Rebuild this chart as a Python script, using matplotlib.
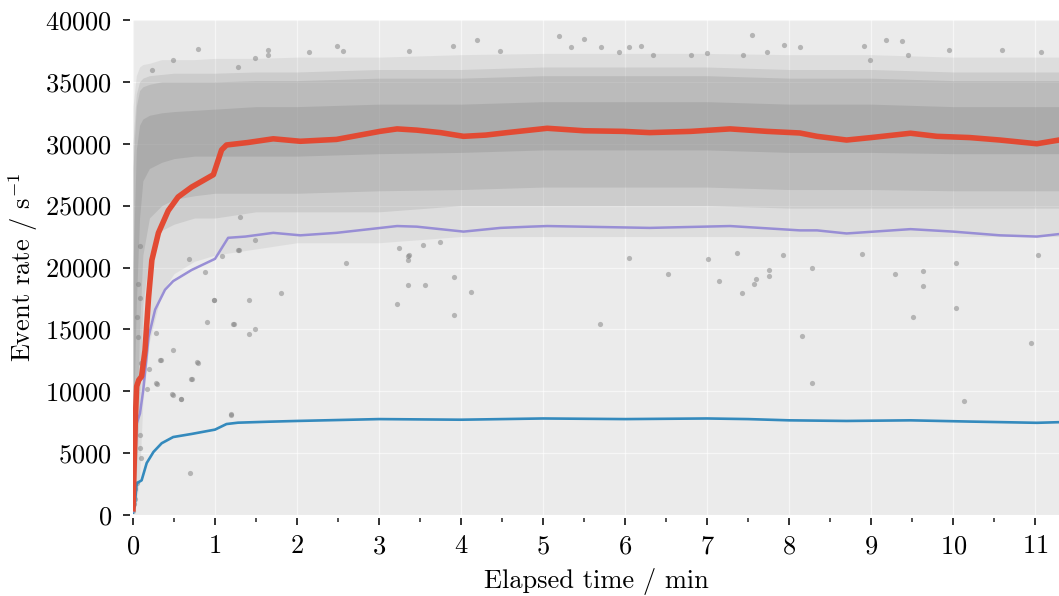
import numpy as np
import matplotlib
matplotlib.use("Agg")
from matplotlib import pyplot as plt
from matplotlib.ticker import MultipleLocator

# mean event rates, time in minutes
total_t = [0.0, 0.01, 0.03, 0.045, 0.07, 0.105, 0.146, 0.19, 0.23, 0.31, 0.43, 0.55, 0.715,
           0.98, 1.08, 1.14, 1.4, 1.71, 2.04, 2.48, 3.01, 3.22, 3.46, 3.75, 4.03, 4.3, 4.56,
           4.84, 5.05, 5.5, 5.98, 6.3, 6.8, 7.28, 7.73, 8.13, 8.34, 8.7, 9.0, 9.48, 9.8,
           10.2, 10.57, 11.02, 11.29]
total_rate = [500, 3000, 8000, 10400, 10900, 11200, 13300, 17600, 20600, 22800, 24600, 25700, 26500,
              27500, 29500, 29900, 30100, 30400, 30200, 30350, 31000, 31200, 31100, 30900, 30600, 30700, 30900,
              31100, 31250, 31050, 31000, 30900, 31000, 31200, 31000, 30870, 30600, 30300, 30500, 30850, 30600,
              30500, 30300, 30000, 30300]

part_a_t = [0.0, 0.02, 0.045, 0.085, 0.125, 0.19, 0.27, 0.39, 0.49, 0.715, 1.0, 1.16, 1.37,
            1.71, 2.04, 2.48, 3.22, 3.46, 4.03, 4.48, 4.84, 5.05, 6.3, 7.28, 8.13, 8.34,
            8.7, 9.48, 10.0, 10.57, 11.02, 11.29]
part_a_rate = [300, 3000, 7400, 8200, 10100, 14400, 16600, 18200, 18900, 19800, 20700, 22400, 22500,
               22800, 22600, 22800, 23350, 23300, 22900, 23200, 23300, 23350, 23200, 23350, 23000, 23000,
               22750, 23100, 22900, 22600, 22500, 22700]

part_b_t = [0.0, 0.02, 0.045, 0.105, 0.167, 0.25, 0.35, 0.49, 0.715, 1.0, 1.14, 1.28, 1.66,
            2.0, 3.0, 4.0, 5.0, 6.0, 7.0, 7.5, 8.0, 8.7, 9.48, 10.2, 11.02, 11.29]
part_b_rate = [200, 700, 2560, 2800, 4200, 5100, 5800, 6300, 6550, 6900, 7350, 7460, 7540,
               7600, 7750, 7700, 7800, 7750, 7800, 7750, 7650, 7600, 7650, 7550, 7450, 7500]

cloud_t = [0.0, 0.04, 0.08, 0.12, 0.2, 0.35, 0.5, 0.75, 1.0, 1.5, 2.0, 3.0, 4.0, 5.0, 6.0,
           7.0, 8.0, 9.0, 10.0, 11.0, 11.29]
cloud_p01 = [300, 800, 3000, 9000, 14000, 18000, 19500, 20500, 21000, 21500, 22000, 22000, 22500, 22500, 22500,
             22500, 22500, 22500, 22500, 22500, 22500]
cloud_p05 = [1000, 3000, 9000, 17000, 21000, 23000, 23500, 24000, 24000, 24500, 24500, 24500, 25000, 25000, 25000,
             25000, 24800, 24800, 24800, 24800, 24800]
cloud_p10 = [2000, 6000, 15000, 21000, 24000, 25000, 25500, 25800, 26000, 26000, 26000, 26200, 26300, 26500, 26500,
             26500, 26300, 26300, 26200, 26200, 26200]
cloud_p30 = [6000, 17000, 24000, 27000, 28000, 28500, 28800, 29000, 29000, 29000, 29000, 29200, 29300, 29500, 29500,
             29500, 29300, 29300, 29200, 29200, 29200]
cloud_p70 = [20000, 29500, 31500, 32000, 32300, 32500, 32600, 32700, 32800, 33000, 33000, 33200, 33200, 33400, 33400,
             33400, 33200, 33200, 33000, 33000, 33000]
cloud_p90 = [28000, 33000, 34300, 34600, 34800, 35000, 35000, 35000, 35000, 35100, 35100, 35300, 35300, 35500, 35500,
             35500, 35300, 35300, 35100, 35100, 35100]
cloud_p95 = [30000, 34000, 35000, 35300, 35500, 35600, 35700, 35700, 35700, 35800, 35800, 36000, 36000, 36200, 36200,
             36200, 36000, 36000, 35800, 35800, 35800]
cloud_p99 = [33000, 35500, 36200, 36400, 36500, 36800, 36800, 36800, 36900, 36900, 37000, 37000, 37200, 37300, 37300,
             37300, 37200, 37200, 37000, 37000, 37000]

# single points standing out of the cloud
outlier_t = [0.0, 0.01, 0.02, 0.03, 0.045, 0.065, 0.085, 0.085, 0.065, 0.045, 0.085, 0.085, 0.1, 0.1,
             0.165, 0.20, 0.28, 0.28, 0.29, 0.33, 0.34, 0.48, 0.49, 0.49, 0.58, 0.59, 0.68, 0.695,
             0.71, 0.715, 0.78, 0.79, 0.88, 0.906, 0.985, 0.99, 1.085, 1.19, 1.195, 1.22, 1.23, 1.29,
             1.41, 1.41, 1.49, 1.81, 2.60, 3.22, 3.35, 3.35, 3.35, 3.56, 3.91, 3.91, 4.12, 5.69,
             6.05, 6.52, 7.01, 7.14, 7.36, 7.43, 7.57, 7.59, 7.75, 7.75, 7.92, 8.16, 8.28, 8.28,
             8.89, 9.29, 9.51, 9.63, 9.63, 10.04, 10.04, 10.13, 10.95, 11.04,
             1.28, 1.49, 3.37, 3.54, 3.74, 3.24, 1.30,
             0.23, 0.49, 0.795, 1.28, 1.49, 1.64, 1.64, 2.14, 2.49, 2.56, 3.36, 3.9, 4.2, 4.48,
             5.19, 5.34, 5.5, 5.71, 5.92, 6.05, 6.19, 6.34, 6.8, 7.0, 7.44, 7.55, 7.73, 7.94,
             8.13, 8.91, 8.98, 9.18, 9.38, 9.45, 9.95, 10.6, 11.07]
outlier_rate = [300, 900, 1300, 2100, 2600, 14400, 21700, 17500, 18700, 16000, 6500, 5400, 4600, 12300,
                10200, 11800, 10700, 14700, 10600, 12500, 12500, 9800, 13300, 9700, 9400, 9350, 20700, 3400,
                11000, 11000, 12400, 12300, 19600, 15600, 17400, 17400, 20900, 8200, 8100, 15400, 15400, 21400,
                17400, 14600, 15000, 17900, 20400, 17060, 20900, 20600, 18600, 18600, 19260, 16200, 18000, 15400,
                20800, 19500, 20700, 18900, 21200, 17900, 18700, 19100, 19800, 19300, 21000, 14500, 20000, 10700,
                21100, 19500, 16000, 19700, 18500, 20400, 16700, 9200, 13900, 21000,
                21400, 22200, 21000, 21800, 22100, 21600, 24100,
                36000, 36800, 37660, 36200, 36900, 37600, 37200, 37400, 37900, 37500, 37500, 37900, 38400, 37500,
                38700, 37800, 38500, 37800, 37400, 37800, 37900, 37200, 37200, 37300, 37200, 38800, 37400, 38000,
                37800, 37900, 36800, 38400, 38300, 37200, 37600, 37600, 37400]

plt.rcParams.update({
    "font.family": "serif",
    "font.serif": ["cmr10"],
    "mathtext.fontset": "cm",
    "axes.unicode_minus": False,
    "axes.formatter.use_mathtext": True,
    "font.size": 19,
})

fig = plt.figure(figsize=(10.59, 5.96), dpi=100)
ax = fig.add_axes([133 / 1059, 81 / 596, 926 / 1059, 495 / 596])
ax.set_facecolor("#ebebeb")

cloud_col = "#7f7f7f"
bands = [(cloud_p01, cloud_p99, 0.12), (cloud_p05, cloud_p95, 0.18), (cloud_p10, cloud_p90, 0.22),
         (cloud_p30, cloud_p70, 0.26)]
for lo, hi, a in bands:
    ax.fill_between(cloud_t, lo, hi, color=cloud_col, alpha=a, lw=0, zorder=1)
ax.scatter(outlier_t, outlier_rate, s=14, color=cloud_col, alpha=0.5, lw=0, zorder=2)

ax.plot(part_b_t, part_b_rate, color="#348abd", lw=1.9, zorder=3)
ax.plot(part_a_t, part_a_rate, color="#988ed5", lw=1.8, zorder=3)
ax.plot(total_t, total_rate, color="#e24a33", lw=4.0, zorder=4)

ax.set_xlim(0, 11.29)
ax.set_ylim(0, 40000)
ax.xaxis.set_major_locator(MultipleLocator(1))
ax.xaxis.set_minor_locator(MultipleLocator(0.5))
ax.yaxis.set_major_locator(MultipleLocator(5000))
ax.grid(True, which="major", color="white", lw=0.9, alpha=0.6, zorder=0)
ax.set_axisbelow(True)

for side in ["top", "right", "left", "bottom"]:
    ax.spines[side].set_visible(False)
ax.spines["left"].set_position(("outward", 2))
ax.spines["bottom"].set_position(("outward", 2))
ax.tick_params(which="major", direction="out", length=5, width=1.3, color="#222222", pad=8)
ax.tick_params(which="minor", direction="out", length=3, width=1.1, color="#222222")
ax.tick_params(axis="x", which="major", pad=7)

ax.set_xlabel("Elapsed time / min", labelpad=7)
ax.set_ylabel("Event rate / s$^{-1}$", labelpad=4)

fig.savefig("out.png", dpi=100)
